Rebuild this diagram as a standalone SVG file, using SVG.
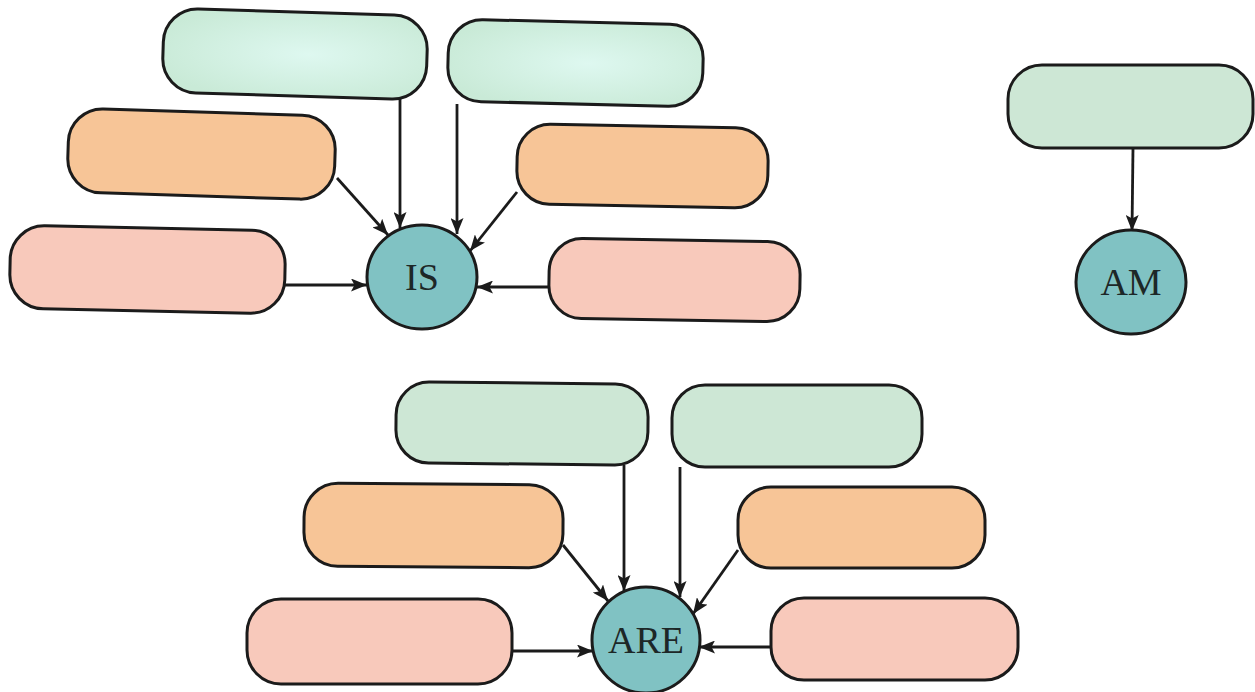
<svg xmlns="http://www.w3.org/2000/svg" width="1255" height="692" viewBox="0 0 1255 692">
<style>
  .box{stroke:#1b1b1b;stroke-width:3}
  .green{fill:url(#gGreen)}
  .green2{fill:#cde7d5}
  .orange{fill:#f7c597}
  .pink{fill:#f8c9bb}
  .hub{fill:#80c2c3;stroke:#1b1b1b;stroke-width:3}
  .lbl{font-family:"Liberation Serif","Times New Roman",serif;font-size:38px;fill:#1d2727;text-anchor:middle}
  .edge{stroke:#1b1b1b;stroke-width:2.8;fill:none;marker-end:url(#arr)}
</style>
<defs>
  <radialGradient id="gGreen" cx="0.55" cy="0.5" r="0.6">
    <stop offset="0" stop-color="#def8f0"/>
    <stop offset="1" stop-color="#c9ead7"/>
  </radialGradient>
  <marker id="arr" markerUnits="userSpaceOnUse" viewBox="0 0 16 13" refX="16" refY="6.5" markerWidth="16" markerHeight="13" orient="auto">
    <path d="M0,0 L16,6.5 L0,13 L3.5,6.5 z" fill="#1b1b1b"/>
  </marker>
</defs>
<rect width="1255" height="692" fill="#ffffff"/>

<!-- IS cluster -->
<g id="is-green-left"><rect class="box green" x="163" y="12" width="264" height="84" rx="34" transform="rotate(1.8 295 54)"/></g>
<g id="is-green-right"><rect class="box green" x="448" y="22" width="255" height="82" rx="34" transform="rotate(1.4 575 63)"/></g>
<g id="is-orange-left"><rect class="box orange" x="68" y="112" width="267" height="84" rx="34" transform="rotate(1.8 201 154)"/></g>
<g id="is-orange-right"><rect class="box orange" x="517" y="126" width="251" height="80" rx="33" transform="rotate(1.1 642 166)"/></g>
<g id="is-pink-left"><rect class="box pink" x="10" y="228" width="275" height="83" rx="34" transform="rotate(1.2 147 269)"/></g>
<g id="is-pink-right"><rect class="box pink" x="549" y="240" width="251" height="80" rx="33" transform="rotate(0.9 674 280)"/></g>
<g id="is-hub"><ellipse class="hub" cx="422" cy="277" rx="55" ry="52"/><text class="lbl" x="422" y="290">IS</text></g>

<!-- AM cluster -->
<g id="am-green"><rect class="box green2" x="1008" y="65" width="245" height="83" rx="34"/></g>
<g id="am-hub"><ellipse class="hub" cx="1131" cy="282" rx="55" ry="52"/><text class="lbl" x="1131" y="295">AM</text></g>

<!-- ARE cluster -->
<g id="are-green-left"><rect class="box green2" x="396" y="383" width="252" height="81" rx="33" transform="rotate(0.6 522 423)"/></g>
<g id="are-green-right"><rect class="box green2" x="672" y="385" width="250" height="82" rx="33"/></g>
<g id="are-orange-left"><rect class="box orange" x="304" y="484" width="259" height="83" rx="34" transform="rotate(0.4 433 525)"/></g>
<g id="are-orange-right"><rect class="box orange" x="738" y="487" width="247" height="81" rx="33"/></g>
<g id="are-pink-left"><rect class="box pink" x="247" y="599" width="265" height="85" rx="34"/></g>
<g id="are-pink-right"><rect class="box pink" x="771" y="598" width="247" height="82" rx="33"/></g>
<g id="are-hub"><ellipse class="hub" cx="646" cy="640" rx="54" ry="53"/><text class="lbl" x="646" y="653">ARE</text></g>

<g id="connectors">
  <line class="edge" x1="400" y1="99" x2="400" y2="228"/>
  <line class="edge" x1="457" y1="104" x2="457" y2="234"/>
  <line class="edge" x1="337" y1="178" x2="388" y2="235"/>
  <line class="edge" x1="517" y1="192" x2="470" y2="251"/>
  <line class="edge" x1="285" y1="285" x2="367" y2="285"/>
  <line class="edge" x1="550" y1="287" x2="477" y2="287"/>

  <line class="edge" x1="1133" y1="148" x2="1132" y2="231"/>

  <line class="edge" x1="624" y1="465" x2="624" y2="591"/>
  <line class="edge" x1="680" y1="467" x2="680" y2="597"/>
  <line class="edge" x1="563" y1="545" x2="608" y2="601"/>
  <line class="edge" x1="738" y1="550" x2="693" y2="614"/>
  <line class="edge" x1="512" y1="651" x2="593" y2="651"/>
  <line class="edge" x1="771" y1="647" x2="699" y2="647"/>
</g>
</svg>
